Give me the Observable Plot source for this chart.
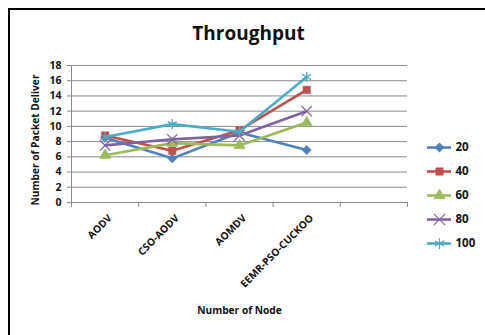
<!DOCTYPE html>
<html>
<head>
<meta charset="utf-8">
<script src="https://cdn.jsdelivr.net/npm/d3@7"></script>
<script src="https://cdn.jsdelivr.net/npm/@observablehq/plot@0.6"></script>
<style>
  html, body { margin: 0; padding: 0; background: #fff; overflow: hidden; }
  #wrap { position: relative; width: 485px; height: 335px; overflow: hidden; font-family: "Open Sans", sans-serif; }
  #frameTop { position: absolute; left: 8px; top: 8px; width: 477px; height: 2px; background: #000; }
  #frameLeft { position: absolute; left: 8px; top: 8px; width: 2px; height: 327px; background: #000; }
  #title { position: absolute; left: 0; width: 485px; top: 20px; text-align: center; font-weight: bold; font-size: 19px; color: #111; padding-left: 12px; box-sizing: border-box; }
  #chart { position: absolute; left: 0; top: 0; }
  #legend { position: absolute; left: 420px; top: 134px; width: 65px; height: 130px; overflow: hidden; }
</style>
</head>
<body>
<div id="wrap">
  <div id="frameTop"></div>
  <div id="frameLeft"></div>
  <div id="chart"></div>
  <div id="title">Throughput</div>
  <div id="legend"></div>
</div>
<script>
const categories = ["AODV", "CSO-AODV", "AOMDV", "EEMR-PSO-CUCKOO"];
const seriesNames = ["20", "40", "60", "80", "100"];
const s20  = [8.5, 5.8, 9.2, 6.9];
const s40  = [8.8, 6.8, 9.5, 14.8];
const s60  = [6.2, 7.8, 7.5, 10.5];
const s80  = [7.5, 8.3, 8.8, 12.0];
const s100 = [8.6, 10.3, 9.3, 16.5];
const yTicks = [0, 2, 4, 6, 8, 10, 12, 14, 16, 18];
const yLabel = "Number of Packet Deliver";
const xLabel = "Number of Node";

const seriesValues = [s20, s40, s60, s80, s100];
const colors = ["#4F81BD", "#C0504D", "#9BBB59", "#8064A2", "#4BACC6"];
const symbols = ["diamond2", "square", "triangle", "times", "asterisk"];
const hollowSet = new Set(["times", "asterisk"]);
const slotCount = categories.length + 1;

const rows = seriesNames.flatMap((s, si) =>
  categories.map((c, ci) => ({series: s, cat: c, xi: ci + 0.5, value: seriesValues[si][ci]}))
);

const font = "Open Sans, sans-serif";
const seriesMarks = seriesNames.flatMap((s, si) => {
  const d = rows.filter(r => r.series === s);
  const hollow = hollowSet.has(symbols[si]);
  return [
    Plot.line(d, {x: "xi", y: "value", stroke: colors[si], strokeWidth: 2.6}),
    Plot.dot(d, {x: "xi", y: "value", symbol: symbols[si], r: hollow ? 4.8 : 4.2,
      fill: hollow ? "none" : colors[si], stroke: colors[si], strokeWidth: hollow ? 1.3 : 0.5})
  ];
});

const chart = Plot.plot({
  width: 485,
  height: 335,
  marginLeft: 71,
  marginRight: 78,
  marginTop: 65,
  marginBottom: 133,
  style: {fontFamily: font, background: "transparent", overflow: "hidden"},
  x: {domain: [0, slotCount], axis: null},
  y: {domain: [0, 18], axis: null},
  marks: [
    Plot.gridY(yTicks, {stroke: "#8a8a8a", strokeOpacity: 1, strokeWidth: 1}),
    Plot.axisY(yTicks, {tickSize: 4, tickPadding: 6, fontSize: 10.5, fontWeight: "bold", fill: "#111", stroke: "#8a8a8a", label: null}),
    Plot.ruleX([0], {stroke: "#8a8a8a"}),
    Plot.ruleY([0], {stroke: "#8a8a8a"}),
    Plot.axisX(d3.range(0, slotCount + 1), {tickSize: 5, tickFormat: () => "", stroke: "#8a8a8a", label: null}),
    Plot.text(categories, {x: (d, i) => i + 0.5, y: 0, text: d => d, rotate: -45, textAnchor: "end",
      dx: 5, dy: 14, fontSize: 10.2, fontWeight: "bold", fill: "#111"}),
    Plot.text([yLabel], {frameAnchor: "left", text: d => d, rotate: -90, textAnchor: "middle", dx: -36, dy: 6,
      fontSize: 10.2, fontWeight: "bold", fill: "#111"}),
    Plot.text([xLabel], {frameAnchor: "bottom", text: d => d, textAnchor: "middle", dy: 111,
      fontSize: 10.2, fontWeight: "bold", fill: "#111"}),
    ...seriesMarks
  ]
});
document.getElementById("chart").append(chart);

const legend = Plot.plot({
  width: 65,
  height: 130,
  margin: 0,
  style: {fontFamily: font, background: "transparent", overflow: "hidden"},
  x: {domain: [0, 1], range: [7, 31], axis: null},
  y: {domain: seriesNames, type: "point", padding: 0, range: [12, 109], axis: null},
  marks: [
    ...seriesNames.flatMap((s, si) => {
      const hollow = hollowSet.has(symbols[si]);
      return [
        Plot.ruleY([s], {y: d => d, x1: 0, x2: 1, stroke: colors[si], strokeWidth: 2.6}),
        Plot.dot([s], {x: 0.5, y: d => d, symbol: symbols[si], r: hollow ? 5.2 : 4.2,
          fill: hollow ? "none" : colors[si], stroke: colors[si], strokeWidth: hollow ? 1.2 : 0.5})
      ];
    }),
    Plot.text(seriesNames, {x: 1, y: d => d, text: d => d, textAnchor: "start", dx: 4,
      fontSize: 11.5, fontWeight: "bold", fill: "#111"})
  ]
});
document.getElementById("legend").append(legend);
</script>
</body>
</html>
